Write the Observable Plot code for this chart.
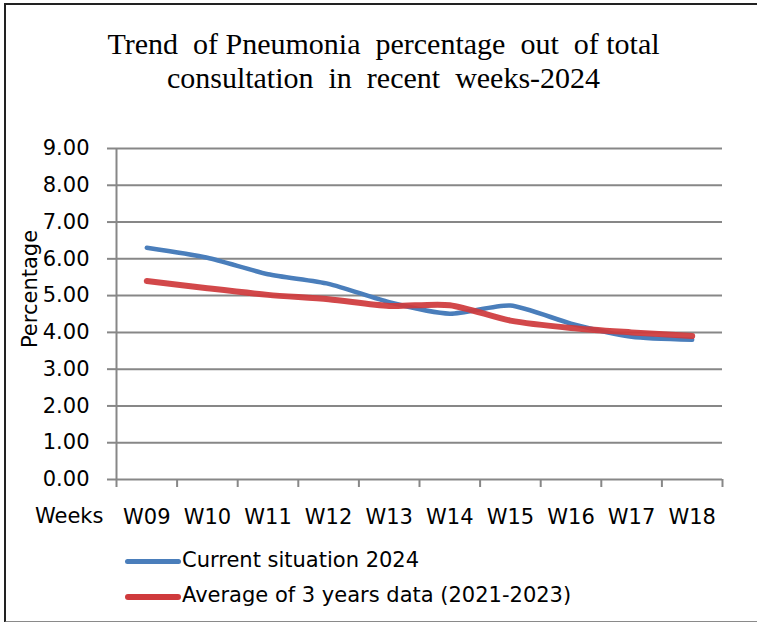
<!DOCTYPE html>
<html>
<head>
<meta charset="utf-8">
<script src="https://cdn.jsdelivr.net/npm/d3@7"></script>
<script src="https://cdn.jsdelivr.net/npm/@observablehq/plot@0.6"></script>
<style>
  html, body { margin: 0; padding: 0; background: #fff; overflow: hidden; }
  #wrap { position: relative; width: 757px; height: 622px; overflow: hidden; background: #fff; }
  #frame { position: absolute; left: 4px; top: 3px; width: 751px; height: 616px;
           border-left: 2px solid #222; border-top: 2px solid #222; border-bottom: 2px solid #8a8a8a; }
  #title { position: absolute; left: 5px; width: 757px; top: 27px; text-align: center;
           font-family: "Liberation Serif", serif; font-size: 30px; line-height: 34px; color: #000; }
  #chart { position: absolute; left: 0; top: 0; width: 757px; height: 540px; overflow: hidden; }
  .lab { position: absolute; font-family: "DejaVu Sans", sans-serif; font-size: 21px; color: #000; white-space: nowrap; }
  .sw { position: absolute; width: 56px; height: 5px; border-radius: 3px; }
</style>
</head>
<body>
<div id="wrap">
  <div id="frame"></div>
  <div id="title">Trend&nbsp; of Pneumonia&nbsp; percentage&nbsp; out&nbsp; of total<br>consultation&nbsp; in&nbsp; recent&nbsp; weeks-2024</div>
  <div id="chart"></div>
  <div class="lab" id="weeks" style="left:35px; top:504px;">Weeks</div>
  <div class="sw" style="left:125px; top:559px; background:#4a7ebb;"></div>
  <div class="lab" style="left:182px; top:548px;">Current situation 2024</div>
  <div class="sw" style="left:125px; top:594px; height:6px; background:#cf3a3c;"></div>
  <div class="lab" style="left:182px; top:583px;">Average of 3 years data (2021-2023)</div>
</div>
<script>
const weeks = ["W09","W10","W11","W12","W13","W14","W15","W16","W17","W18"];
const current2024 = [6.30, 6.03, 5.58, 5.32, 4.82, 4.51, 4.73, 4.24, 3.88, 3.80];
const average3y = [5.40, 5.20, 5.02, 4.90, 4.72, 4.74, 4.32, 4.12, 4.00, 3.90];
const yTicks = [0,1,2,3,4,5,6,7,8,9];

const cur = weeks.map((w, i) => ({i: i + 0.5, w, v: current2024[i]}));
const avg = weeks.map((w, i) => ({i: i + 0.5, w, v: average3y[i]}));
const bounds = d3.range(weeks.length + 1);
const centers = weeks.map((w, i) => i + 0.5);

const grid = "#878787";
const font = "DejaVu Sans, sans-serif";

const chart = Plot.plot({
  width: 757,
  height: 540,
  marginLeft: 116,
  marginRight: 35,
  marginTop: 148,
  marginBottom: 61,
  style: {fontFamily: font, fontSize: "21px", color: "#000", background: "transparent"},
  x: {type: "linear", domain: [0, weeks.length], axis: null},
  y: {domain: [0, 9], axis: null},
  marks: [
    Plot.ruleY(yTicks.filter(d => d > 0), {stroke: grid, strokeWidth: 2}),
    Plot.axisY({ticks: yTicks, label: null, tickFormat: d3.format(".2f"), tickSize: 9, tickPadding: 18, stroke: grid, strokeWidth: 2, strokeOpacity: 1, fontSize: 21, fill: "#000"}),
    Plot.ruleX([0], {stroke: grid, strokeWidth: 2}),
    Plot.axisX({ticks: bounds, label: null, tickFormat: () => "", tickSize: 8, stroke: grid, strokeWidth: 2, strokeOpacity: 1}),
    Plot.axisX({ticks: centers, label: null, tickFormat: d => weeks[Math.floor(d)], tickSize: 0, tickPadding: 30, fontSize: 21, fill: "#000"}),
    Plot.ruleY([0], {stroke: grid, strokeWidth: 2}),
    Plot.line(cur, {x: "i", y: "v", stroke: "#4a7ebb", strokeWidth: 4.5, curve: "cardinal", tension: 0.35}),
    Plot.line(avg, {x: "i", y: "v", stroke: "#cf3a3c", strokeWidth: 6, strokeOpacity: 0.93, curve: "cardinal", tension: 0.2}),
    Plot.text(["Percentage"], {frameAnchor: "left", textAnchor: "middle", dx: -86, dy: -25, rotate: -90, fontSize: 21, fill: "#000"})
  ]
});
document.getElementById("chart").appendChild(chart);
</script>
</body>
</html>
